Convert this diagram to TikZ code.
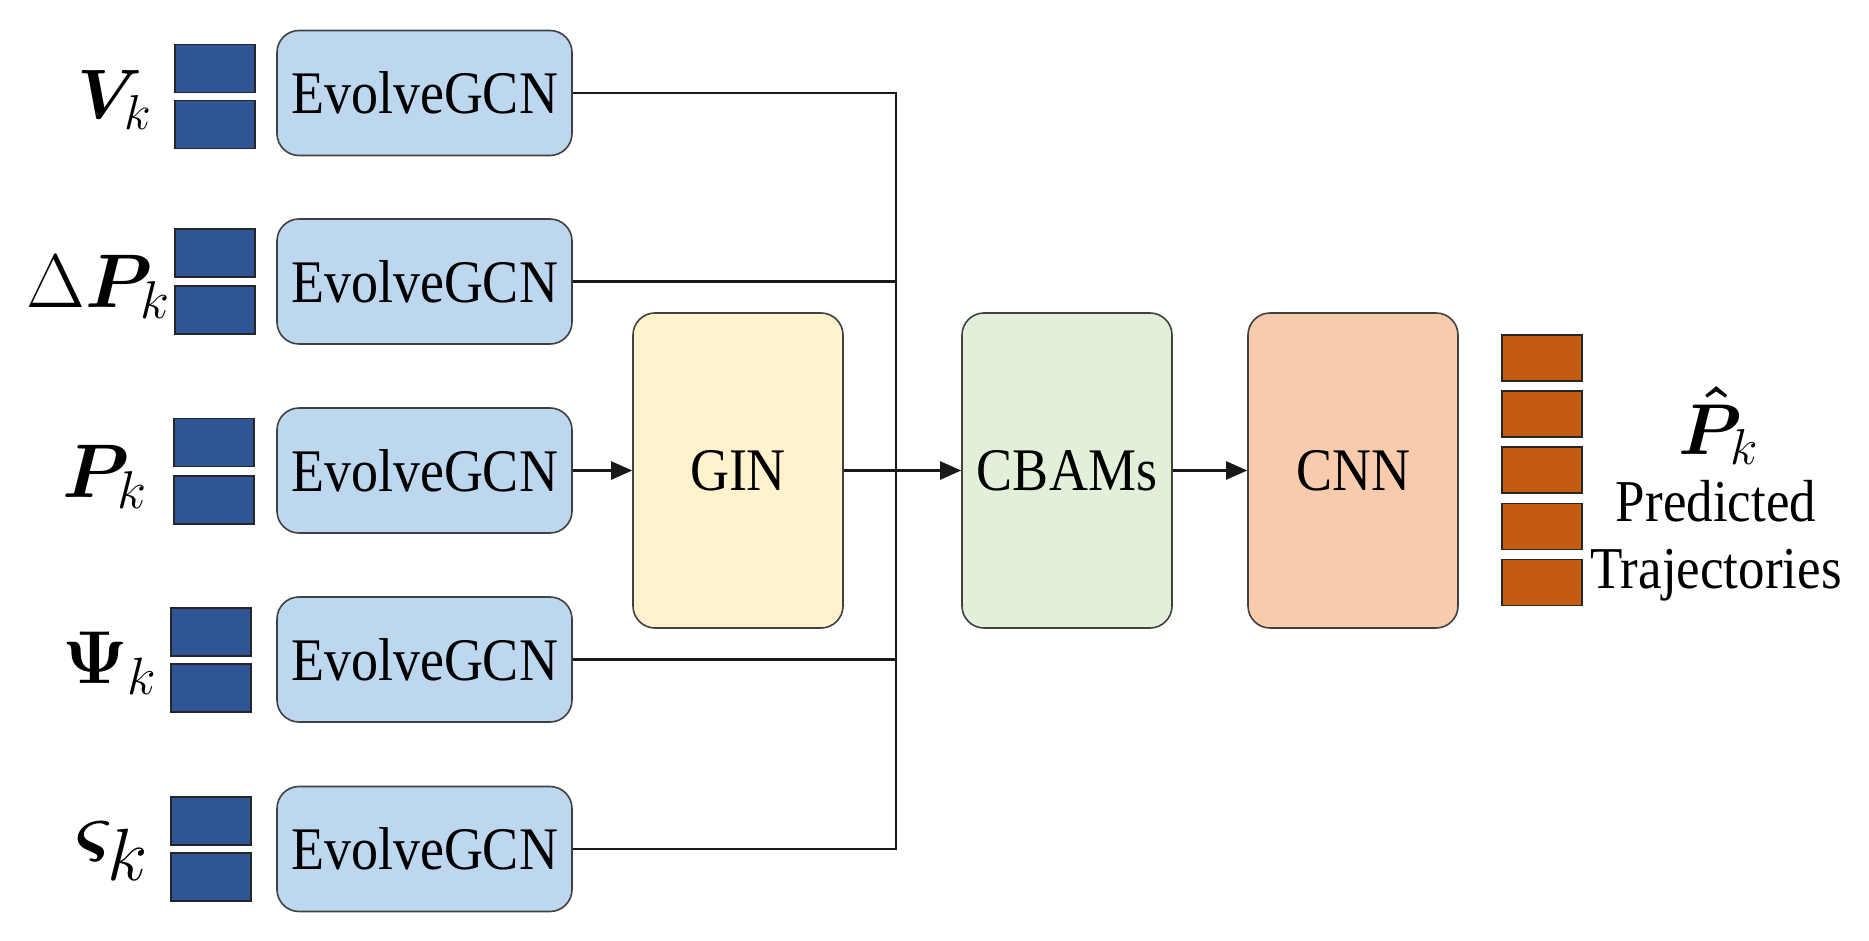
\RequirePackage{fix-cm}
\documentclass[tikz,border=0pt]{standalone}
\usepackage{bm}
\usepackage{graphicx}
\usepackage[no-math]{fontspec}
\setmainfont{Liberation Serif}
\usetikzlibrary{arrows.meta}
\newcommand\talltext[1]{\scalebox{1}[1.12]{#1}}
\definecolor{egfill}{HTML}{BDD7EE}
\definecolor{sqblue}{HTML}{2F5597}
\definecolor{ginfill}{HTML}{FFF2CC}
\definecolor{cbfill}{HTML}{E2F0D9}
\definecolor{cnnfill}{HTML}{F8CBAD}
\definecolor{sqorange}{HTML}{C55A11}
\definecolor{edge}{HTML}{404040}
\begin{document}
\begin{tikzpicture}[x=1pt,y=-1pt,
  evbox/.style={draw=edge, line width=1.6pt, fill=egfill, rounded corners=22pt,
    minimum width=295pt, minimum height=125pt, inner sep=0pt,
    font=\fontsize{54}{64}\selectfont},
  bigbox/.style={draw=edge, line width=1.6pt, rounded corners=22pt,
    minimum width=210pt, minimum height=315pt, inner sep=0pt,
    font=\fontsize{54}{64}\selectfont},
  bsq/.style={draw=black!85, line width=1.4pt, fill=sqblue,
    minimum width=80pt, minimum height=48pt, inner sep=0pt},
  osq/.style={draw=black!85, line width=1.4pt, fill=sqorange,
    minimum width=80pt, minimum height=46pt, inner sep=0pt},
  lab/.style={anchor=east, inner sep=0pt, font=\fontsize{70}{84}\selectfont},
  conn/.style={line width=2.4pt, draw=black!90},
  arr/.style={conn, -{Triangle[length=21pt,width=18pt]}}
]
\useasboundingbox (0,0) rectangle (1869,941);

% EvolveGCN boxes
\node[evbox] (ev1) at (424.5,93) {\talltext{EvolveGCN}};
\node[evbox] (ev2) at (424.5,281.5) {\talltext{EvolveGCN}};
\node[evbox] (ev3) at (424.5,470.5) {\talltext{EvolveGCN}};
\node[evbox] (ev4) at (424.5,659.5) {\talltext{EvolveGCN}};
\node[evbox] (ev5) at (424.5,849) {\talltext{EvolveGCN}};

% input squares
\node[bsq] (s1a) at (215,68.5) {};
\node[bsq] (s1b) at (215,124.5) {};
\node[bsq] (s2a) at (215,253) {};
\node[bsq] (s2b) at (215,310) {};
\node[bsq] (s3a) at (214,442.5) {};
\node[bsq] (s3b) at (214,500) {};
\node[bsq] (s4a) at (211,632) {};
\node[bsq] (s4b) at (211,688) {};
\node[bsq] (s5a) at (211,821) {};
\node[bsq] (s5b) at (211,877) {};

% input labels
\node[lab] (l1) at (152,100) {$\bm{V}_k$};
\node[lab, font=\fontsize{76}{90}\selectfont] (l2) at (170,287) {$\Delta\bm{P}_k$};
\node[lab, font=\fontsize{76}{90}\selectfont] (l3) at (147,477) {$\bm{P}_k$};
\node[lab, font=\fontsize{75}{90}\selectfont] (l4) at (157,663) {$\bm{\Psi}_k$};
\node[lab, font=\fontsize{74}{88}\selectfont] (l5) at (148,851) {$\bm{\varsigma}_{\textstyle k}$};

% main blocks
\node[bigbox, fill=ginfill] (gin) at (738,470.5) {\talltext{GIN}};
\node[bigbox, fill=cbfill] (cbam) at (1067,470.5) {\talltext{CBAMs}};
\node[bigbox, fill=cnnfill] (cnn) at (1353,470.5) {\talltext{CNN}};

% output squares
\node[osq] (o1) at (1542,358) {};
\node[osq] (o2) at (1542,414) {};
\node[osq] (o3) at (1542,470) {};
\node[osq] (o4) at (1542,526.5) {};
\node[osq] (o5) at (1542,582.5) {};

% output labels
\node[inner sep=0pt, anchor=base, text depth=0pt, font=\fontsize{72}{86}\selectfont] (ph) at (1718,454) {$\bm{\hat{P}}_k$};
\node[inner sep=0pt, align=center, font=\fontsize{53}{67}\selectfont] (pt) at (1716,541) {\talltext{Predicted}\\\talltext{Trajectories}};

% bus
\coordinate (bt) at (896,93);
\coordinate (bb) at (896,849);

\draw[conn] (ev1.east) -- (bt) -- (bb) -- (ev5.east);
\draw[conn] (ev2.east) -- (ev2.east -| bt);
\draw[conn] (ev4.east) -- (ev4.east -| bt);
\draw[arr] (ev3.east) -- (gin.west);
\draw[arr] (gin.east) -- (cbam.west);
\draw[arr] (cbam.east) -- (cnn.west);
\end{tikzpicture}
\end{document}
